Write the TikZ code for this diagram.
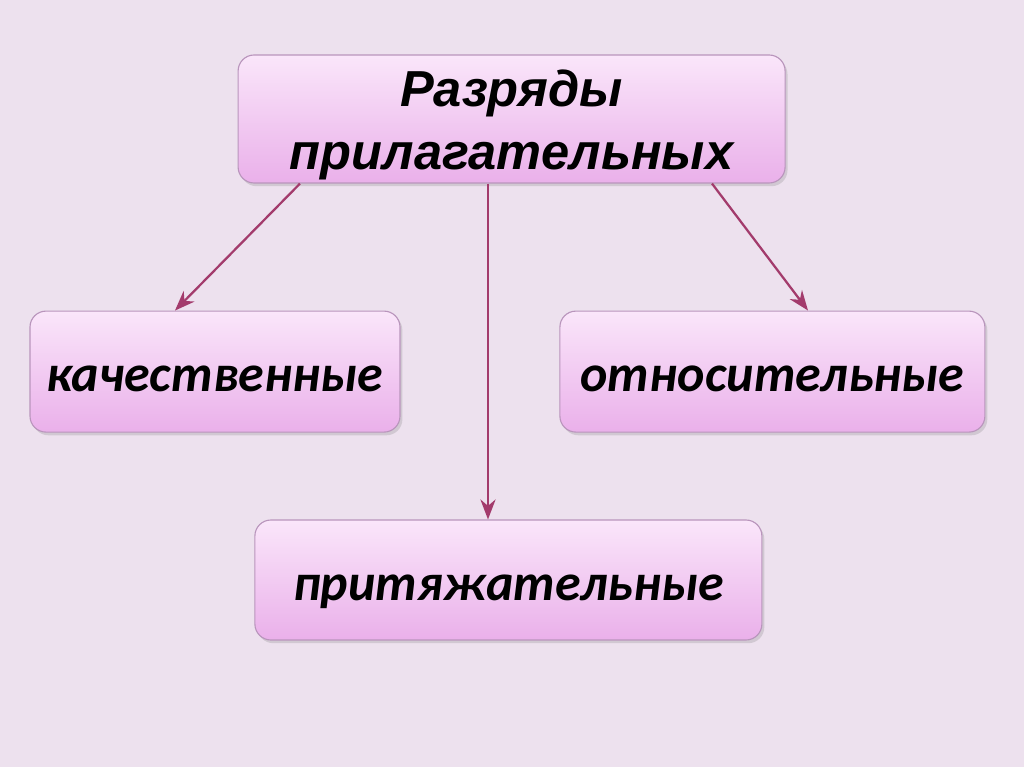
\documentclass[tikz,border=0pt]{standalone}
\usepackage{fontspec}
\setmainfont{Liberation Sans}
\newfontfamily\boxfont{Carlito}
\usetikzlibrary{arrows.meta,calc,shadows}
\definecolor{bgpink}{HTML}{EDE1EE}
\definecolor{boxtop}{HTML}{FAE6FA}
\definecolor{boxbot}{HTML}{EAB0EA}
\definecolor{boxline}{HTML}{B995BC}
\definecolor{arrowred}{HTML}{A33B6C}

\tikzset{
  kind/.style={draw=boxline, line width=0.8pt, rounded corners=0.4cm,
    top color=boxtop, bottom color=boxbot,
    drop shadow={shadow xshift=0.06cm, shadow yshift=-0.08cm, opacity=0.25},
    inner sep=0pt, align=center},
  kindtext/.style={font=\boxfont\fontsize{37}{40}\selectfont\bfseries\itshape,
    text height=1.05cm, text depth=0.05cm},
  branch/.style={draw=arrowred, line width=1.6pt, -{Stealth[length=0.5cm, width=0.38cm]}}
}

\begin{document}
\begin{tikzpicture}
		\fill[bgpink] (0,0) rectangle (25.6,-19.175);
		\useasboundingbox (0,0) rectangle (25.6,-19.175);
		% boxes
		\node[kind, minimum width=13.675cm, minimum height=3.2cm,
			font=\fontsize{36}{45}\selectfont\bfseries\itshape] (top) at (12.79,-2.975)
			{\rule{0pt}{35pt}Разряды\\ прилагательных};
		\node[kind, kindtext, minimum width=9.25cm, minimum height=3.025cm] (qual) at (5.375,-9.29)
			{качественные};
		\node[kind, kindtext, minimum width=10.625cm, minimum height=3.025cm] (rel) at (19.31,-9.29)
			{относительные};
		\node[kind, kindtext, minimum width=12.675cm, minimum height=3cm] (poss) at (12.71,-14.5)
			{притяжательные};
		% arrows
		\draw[branch] ($(top.south)+(-5.29,0)$) -- ($(qual.north)+(-1,0)$);
		\draw[branch] ($(top.south)+(-0.59,0)$) -- (poss.north -| {$(top.south)+(-0.59,0)$});
		\draw[branch] ($(top.south)+(5.01,0)$) -- ($(rel.north)+(0.89,0)$);
	\end{tikzpicture}
\end{document}
